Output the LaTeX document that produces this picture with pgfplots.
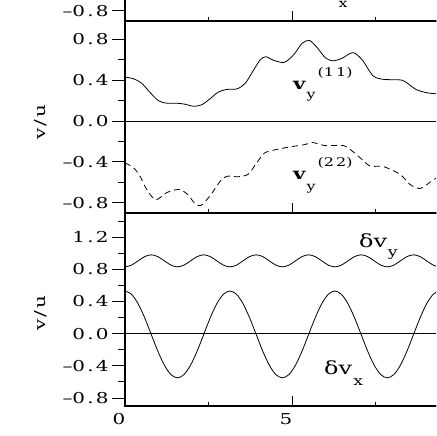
\documentclass[border=0pt]{standalone}
\usepackage{fontspec}
\setmainfont{DejaVu Serif}
\usepackage{graphicx}
\usepackage{pgfplots}
\pgfplotsset{compat=1.18}
\usepackage{pgfplotstable}

% wide, loosely spaced text like the original figure
\newcommand\wide[1]{\scalebox{1.33}[1]{#1}}
\newcommand\gap{\kern1.6pt}

% lower panel: delta v_x and delta v_y
\pgfplotstableread{
x dvx dvy
0.0000 0.530 0.830
0.1963 0.489 0.852
0.3927 0.372 0.905
0.5890 0.197 0.958
0.7854 -0.010 0.980
0.9817 -0.217 0.958
1.1781 -0.392 0.905
1.3744 -0.509 0.852
1.5708 -0.550 0.830
1.7671 -0.509 0.852
1.9635 -0.392 0.905
2.1598 -0.217 0.958
2.3562 -0.010 0.980
2.5525 0.197 0.958
2.7489 0.372 0.905
2.9452 0.489 0.852
3.1416 0.530 0.830
3.3379 0.489 0.852
3.5343 0.372 0.905
3.7306 0.197 0.958
3.9270 -0.010 0.980
4.1233 -0.217 0.958
4.3197 -0.392 0.905
4.5160 -0.509 0.852
4.7124 -0.550 0.830
4.9087 -0.509 0.852
5.1051 -0.392 0.905
5.3014 -0.217 0.958
5.4978 -0.010 0.980
5.6941 0.197 0.958
5.8905 0.372 0.905
6.0868 0.489 0.852
6.2832 0.530 0.830
6.4795 0.489 0.852
6.6759 0.372 0.905
6.8722 0.197 0.958
7.0686 -0.010 0.980
7.2649 -0.217 0.958
7.4613 -0.392 0.905
7.6576 -0.509 0.852
7.8540 -0.550 0.830
8.0503 -0.509 0.852
8.2467 -0.392 0.905
8.4430 -0.217 0.958
8.6394 -0.010 0.980
8.8357 0.197 0.958
9.0321 0.372 0.905
9.2284 0.489 0.852
9.4248 0.530 0.830
9.6211 0.489 0.852
}\waves

% middle panel: v_y^(11)
\pgfplotstableread{
x y
0.00 0.430
0.25 0.415
0.50 0.370
0.75 0.280
1.00 0.200
1.25 0.175
1.55 0.175
1.80 0.165
2.05 0.145
2.30 0.160
2.55 0.220
2.80 0.285
3.05 0.310
3.35 0.315
3.60 0.370
3.85 0.500
4.05 0.600
4.22 0.630
4.45 0.595
4.77 0.575
5.05 0.650
5.30 0.760
5.52 0.790
5.75 0.720
6.00 0.620
6.22 0.590
6.50 0.615
6.82 0.670
7.10 0.600
7.42 0.445
7.70 0.410
8.00 0.405
8.30 0.400
8.50 0.360
8.71 0.310
9.00 0.280
9.21 0.270
9.60 0.260
}\vyone

% middle panel: v_y^(22)
\pgfplotstableread{
x y
0.00 -0.410
0.25 -0.455
0.45 -0.540
0.65 -0.670
0.92 -0.770
1.25 -0.700
1.62 -0.670
1.88 -0.720
2.10 -0.810
2.28 -0.825
2.55 -0.730
2.85 -0.590
3.05 -0.540
3.39 -0.545
3.69 -0.520
3.94 -0.410
4.19 -0.310
4.59 -0.275
4.99 -0.250
5.39 -0.230
5.62 -0.210
5.99 -0.240
6.54 -0.240
6.79 -0.290
7.04 -0.360
7.34 -0.440
7.73 -0.445
8.23 -0.520
8.53 -0.620
8.83 -0.660
9.13 -0.600
9.31 -0.560
9.60 -0.500
}\vytwo

\pgfplotsset{
  panel/.style={scale only axis, width=334pt, xmin=0, xmax=10,
    anchor=south west,
    axis line style={line width=1.1pt},
    tick style={line width=0.9pt, black},
    tick label style={font=\fontsize{15}{18}\selectfont},
    /pgf/number format/assume math mode=true},
  yside/.style={panel, tick align=outside, major tick length=13pt,
    minor tick length=7pt, xtick=\empty, ytick pos=left,
    ylabel={\wide{v\gap/\gap u}},
    ylabel style={font=\fontsize{15}{18}\selectfont, anchor=center}},
  xside/.style={panel, tick align=inside, major tick length=10pt,
    minor tick length=4pt, ytick=\empty, xtick={0,5,10},
    minor xtick={2.5,7.5}, xtick pos=left,
    xticklabel style={xshift=-6pt, yshift=-4pt}},
  curve/.style={black, line width=0.8pt, smooth},
}

\begin{document}
\begin{tikzpicture}
\useasboundingbox (0,0) rectangle (436pt,436pt);
\clip (0,0) rectangle (436pt,436pt);

% top panel (cut off)
\begin{axis}[yside, at={(125pt,415pt)}, height=192pt, ymin=-0.9, ymax=0.98,
  ytick={-0.8}, yticklabels={\wide{--0\gap.\gap8}}, ylabel={}]
  \node[font=\fontsize{12}{13}\selectfont] at (axis cs:6.53,-0.733) {\wide{x}};
\end{axis}
\begin{axis}[xside, at={(125pt,415pt)}, height=192pt, ymin=-0.9, ymax=0.98,
  xticklabels=\empty]
\end{axis}

% middle panel
\begin{axis}[yside, at={(125pt,223pt)}, height=192pt, ymin=-0.9, ymax=0.98,
  ytick={-0.8,-0.4,0,0.4,0.8},
  yticklabels={\wide{--0\gap.\gap8},\wide{--0\gap.\gap4},\wide{0\gap.\gap0},\wide{0\gap.\gap4},\wide{0\gap.\gap8}},
  minor ytick={-0.6,-0.2,0.2,0.6},
  ylabel style={at={(axis description cs:-0.251,0.474)}}]
  \addplot[black, line width=0.6pt] coordinates {(0,0) (10,0)};
  \addplot[curve] table[x=x, y=y] {\vyone};
  \addplot[curve, dash pattern=on 6pt off 4pt] table[x=x, y=y] {\vytwo};
  \node[font=\fontsize{16}{18}\selectfont\bfseries] at (axis cs:5.22,0.35) {\wide{v}};
  \node[font=\fontsize{12}{13}\selectfont] at (axis cs:5.57,0.235) {\wide{y}};
  \node[font=\fontsize{12}{13}\selectfont] at (axis cs:6.29,0.47) {\wide{(1\gap1)}};
  \node[font=\fontsize{16}{18}\selectfont\bfseries] at (axis cs:5.22,-0.535) {\wide{v}};
  \node[font=\fontsize{12}{13}\selectfont] at (axis cs:5.57,-0.665) {\wide{y}};
  \node[font=\fontsize{12}{13}\selectfont] at (axis cs:6.29,-0.41) {\wide{(2\gap2)}};
\end{axis}
\begin{axis}[xside, at={(125pt,223pt)}, height=192pt, ymin=-0.9, ymax=0.98,
  xticklabels=\empty]
\end{axis}

% bottom panel
\begin{axis}[yside, at={(125pt,30pt)}, height=193pt, ymin=-0.9, ymax=1.5,
  ytick={-0.8,-0.4,0,0.4,0.8,1.2},
  yticklabels={\wide{--0\gap.\gap8},\wide{--0\gap.\gap4},\wide{0\gap.\gap0},\wide{0\gap.\gap4},\wide{0\gap.\gap8},\wide{1\gap.\gap2}},
  minor ytick={-0.6,-0.2,0.2,0.6,1.0,1.4},
  ylabel style={at={(axis description cs:-0.251,0.482)}}]
  \addplot[black, line width=0.6pt] coordinates {(0,0) (10,0)};
  \addplot[curve] table[x=x, y=dvx] {\waves};
  \addplot[curve] table[x=x, y=dvy] {\waves};
  \node[font=\fontsize{18}{20}\selectfont] at (axis cs:7.43,1.15) {\wide{δv}};
  \node[font=\fontsize{13}{14}\selectfont] at (axis cs:8.02,0.98) {\wide{y}};
  \node[font=\fontsize{18}{20}\selectfont] at (axis cs:6.38,-0.42) {\wide{δv}};
  \node[font=\fontsize{13}{14}\selectfont] at (axis cs:6.98,-0.60) {\wide{x}};
\end{axis}
\begin{axis}[xside, at={(125pt,30pt)}, height=193pt, ymin=-0.9, ymax=1.5,
  xticklabels={\wide{0},\wide{5},{}}]
\end{axis}
\end{tikzpicture}
\end{document}
